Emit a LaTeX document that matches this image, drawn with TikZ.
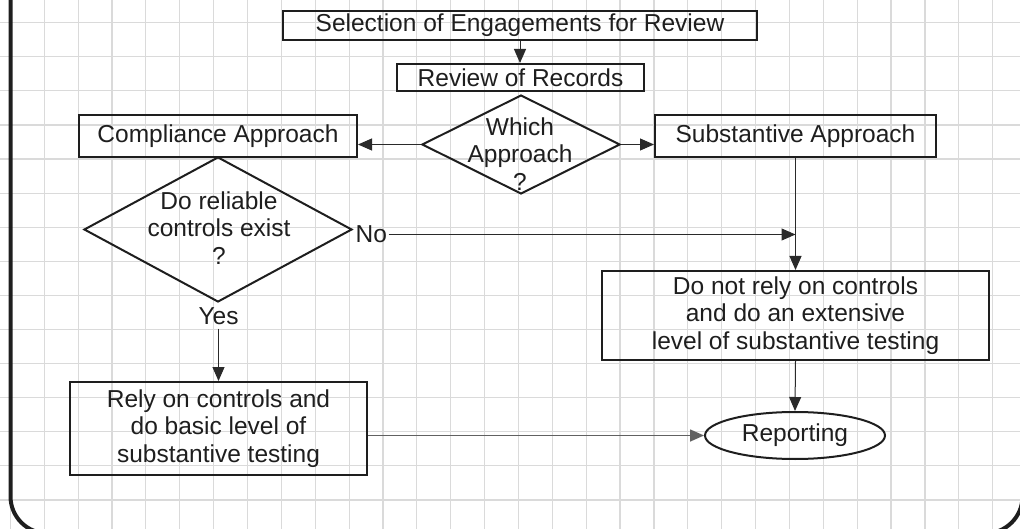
\documentclass[tikz,border=0pt]{standalone}
\usepackage{fontspec}
\setmainfont{Liberation Sans}
\usetikzlibrary{shapes.geometric,arrows.meta}
\definecolor{ink}{HTML}{1E1E1E}
\definecolor{wire}{HTML}{2A2A2A}
\definecolor{gridc}{HTML}{DADADA}
\begin{document}
\begin{tikzpicture}[x=1pt,y=-1pt,
  every node/.style={font=\fontsize{24.5}{27.5}\selectfont, text=ink},
  box/.style={draw=ink, line width=2pt, rectangle, inner sep=0pt, align=center},
  dia/.style={draw=ink, line width=2pt, diamond, inner sep=0pt},
  term/.style={draw=ink, line width=2pt, ellipse, inner sep=0pt},
  txt/.style={align=center, inner sep=0pt},
  lbl/.style={inner sep=2pt},
  conn/.style={draw=wire, line width=1pt},
  arr/.style={conn, -{Triangle[length=14pt,width=12pt]}},
]
\useasboundingbox (0,0) rectangle (1020,529);
\begin{scope}
  \clip (0,0) rectangle (1020,529);
  % graph paper
  \foreach \i in {0,...,30}
    \draw[gridc, line width=1.2pt] (10.4+33.87*\i,0) -- ++(0,529);
  \foreach \j in {0,...,15}
    \draw[gridc, line width=1.2pt] (0,-11.4+34.09*\j) -- ++(1020,0);
  % outer frame, its bottom edge running just under the page edge
  \draw[ink, line width=4pt, rounded corners=37pt]
    (10.5,-30) -- (10.5,533.4) -- (1022.5,533.4) -- (1022.5,-30);
\end{scope}

% process boxes
\node[box, minimum width=474, minimum height=29] (sel) at (520,25.5)
  {Selection of Engagements for Review};
\node[box, minimum width=247, minimum height=27] (rev) at (520.5,77.5)
  {Review of Records};
\node[box, minimum width=278, minimum height=42] (comp) at (218,136)
  {Compliance Approach};
\node[box, minimum width=281, minimum height=42] (subst) at (795.5,136)
  {Substantive Approach};
\node[box, minimum width=387, minimum height=89] (donot) at (795.5,315.5)
  {Do not rely on controls\\and do an extensive\\level of substantive testing};
\node[box, minimum width=297, minimum height=93] (rely) at (218.5,428.5)
  {Rely on controls and\\do basic level of\\substantive testing};
\node[term, minimum width=180, minimum height=47] (rep) at (795,435.5)
  {Reporting};

% decisions
\node[dia, minimum width=198, minimum height=99] (which) at (521,144.5) {};
\node[txt] (whicht) at (520,154) {Which\\Approach\\?};
\node[dia, minimum width=268, minimum height=145] (relc) at (218,229.5) {};
\node[txt] (relct) at (219,228) {Do reliable\\controls exist\\?};

% branch labels
\node[lbl, anchor=west, inner sep=1.5pt] (no) at (354,234.5) {No};
\node[lbl] (yes) at (218.5,316) {Yes};

% connectors
\draw[arr] (sel.south) -- (sel.south |- rev.north);
\draw[arr] (which.west) -- (which.west -| comp.east);
\draw[arr] (which.east) -- (which.east -| subst.west);
\draw[arr] (subst.south) -- (donot.north);
\draw[arr] (no.east) -- (no.east -| subst.south);
\draw[arr, shorten <=2pt] (yes.south) -- (yes.south |- rely.north);
\draw[arr] (donot.south) -- (rep.north);
\draw[arr, draw=black!62, line width=1.6pt] (rely.east |- rep.west) -- (rep.west);
\end{tikzpicture}
\end{document}
